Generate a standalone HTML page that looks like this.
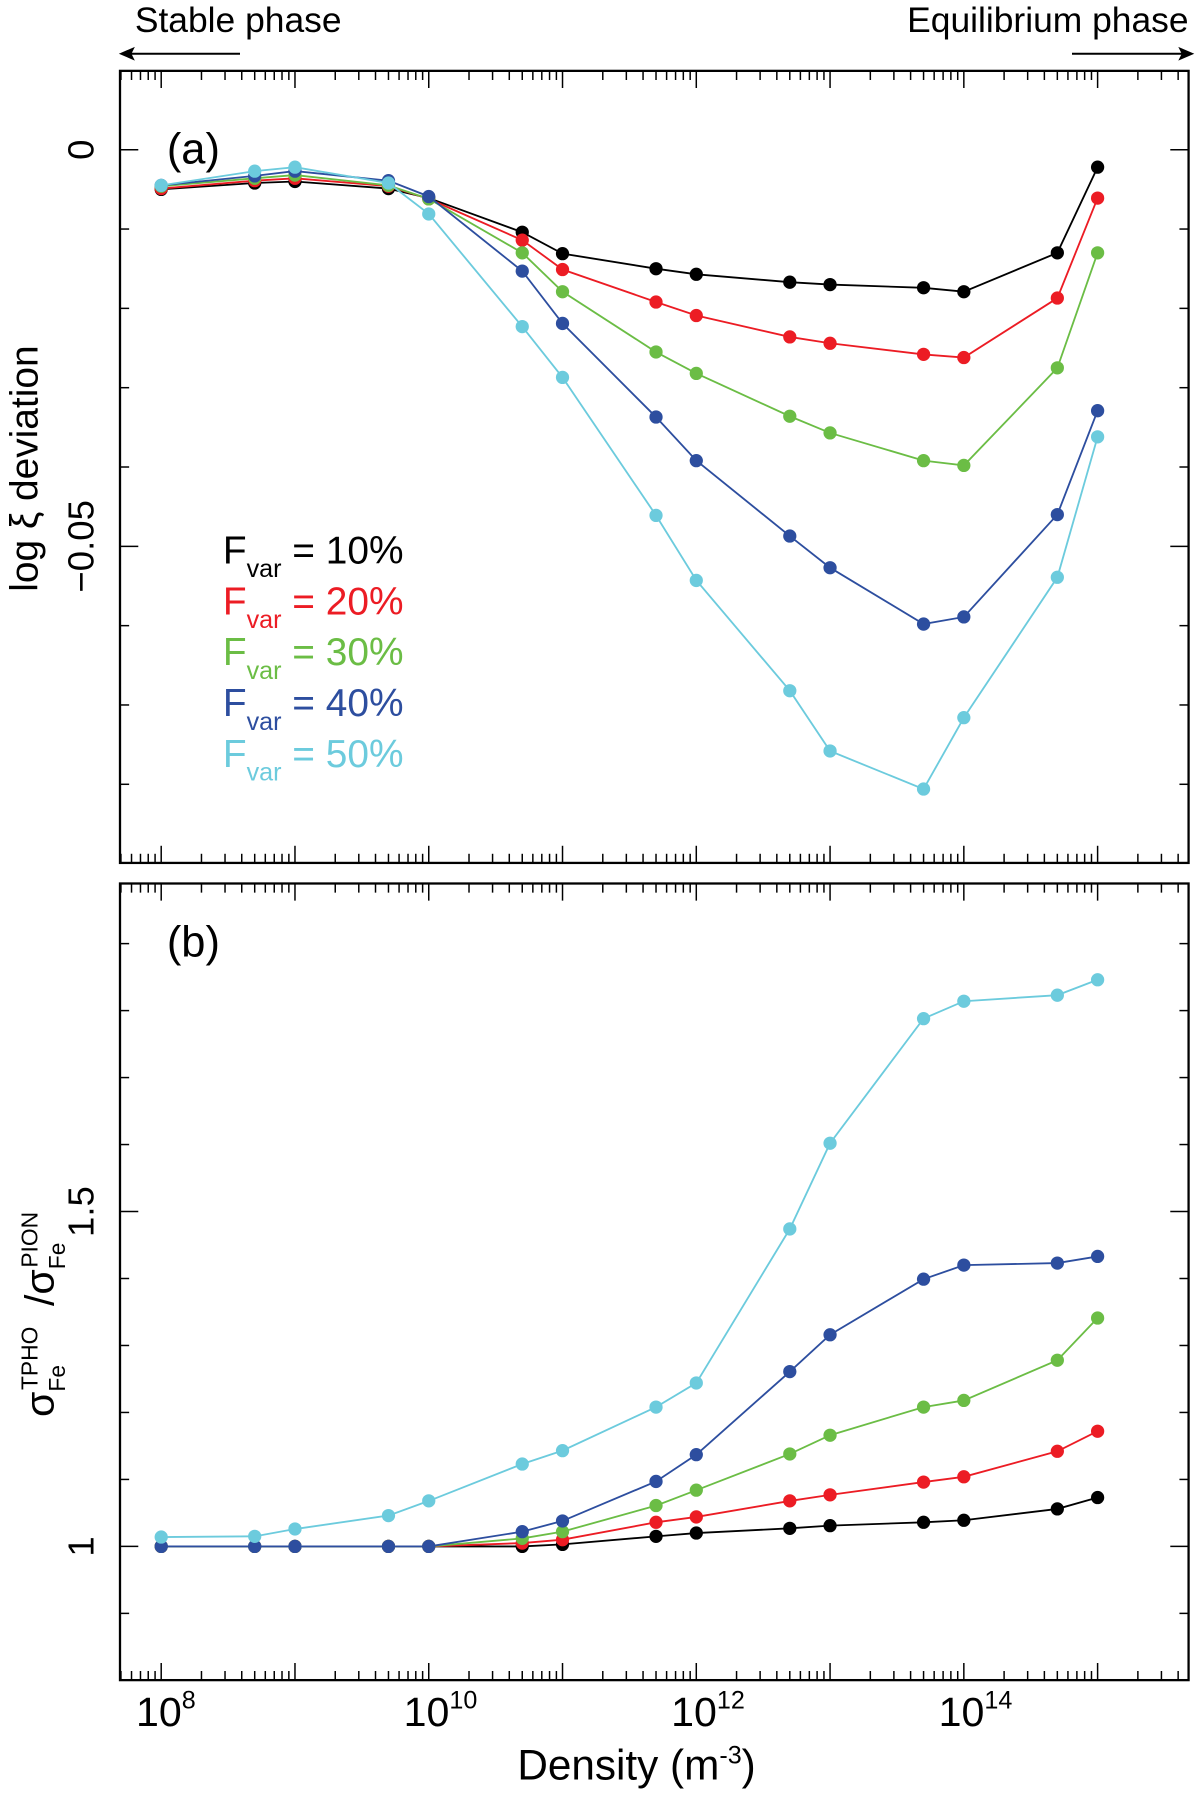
<!DOCTYPE html>
<html><head><meta charset="utf-8">
<style>
html,body{margin:0;padding:0;background:#fff;}
svg{display:block;font-family:"Liberation Sans",sans-serif;}
</style></head>
<body>
<svg id="chart" width="1200" height="1799" viewBox="0 0 1050 1574" preserveAspectRatio="none" xmlns="http://www.w3.org/2000/svg">
<g id="root"></g>
</svg>
<script>
const densities = [1e8,5e8,1e9,5e9,1e10,5e10,1e11,5e11,1e12,5e12,1e13,5e13,1e14,5e14,1e15];
const seriesNames = ["F_var = 10%","F_var = 20%","F_var = 30%","F_var = 40%","F_var = 50%"];
const legendPct = ["10%","20%","30%","40%","50%"];
const seriesColors = ["#000000","#ec1c24","#6bbd45","#2d4e9f","#6ccbdd"];
const devBlack = [-0.0050,-0.0042,-0.0040,-0.0049,-0.0061,-0.0104,-0.0131,-0.0150,-0.0157,-0.0167,-0.0170,-0.0174,-0.0179,-0.0130,-0.0022];
const devRed   = [-0.0049,-0.0039,-0.0036,-0.0046,-0.0062,-0.0114,-0.0151,-0.0192,-0.0209,-0.0236,-0.0244,-0.0258,-0.0262,-0.0187,-0.0061];
const devGreen = [-0.0046,-0.0036,-0.0032,-0.0045,-0.0062,-0.0130,-0.0179,-0.0255,-0.0282,-0.0336,-0.0357,-0.0392,-0.0398,-0.0275,-0.0130];
const devBlue  = [-0.0045,-0.0033,-0.0027,-0.0039,-0.0059,-0.0153,-0.0219,-0.0337,-0.0392,-0.0487,-0.0527,-0.0598,-0.0589,-0.0460,-0.0329];
const devCyan  = [-0.0045,-0.0027,-0.0022,-0.0042,-0.0081,-0.0223,-0.0287,-0.0461,-0.0543,-0.0682,-0.0758,-0.0806,-0.0716,-0.0539,-0.0362];
const ratioBlack = [1.0,1.0,1.0,1.0,1.0,1.0,1.003,1.015,1.020,1.027,1.031,1.036,1.039,1.056,1.073];
const ratioRed   = [1.0,1.0,1.0,1.0,1.0,1.005,1.010,1.036,1.044,1.068,1.077,1.096,1.104,1.142,1.172];
const ratioGreen = [1.0,1.0,1.0,1.0,1.0,1.012,1.022,1.061,1.084,1.138,1.166,1.208,1.218,1.278,1.341];
const ratioBlue  = [1.0,1.0,1.0,1.0,1.0,1.022,1.038,1.097,1.137,1.261,1.316,1.399,1.420,1.423,1.433];
const ratioCyan  = [1.014,1.015,1.026,1.046,1.068,1.123,1.143,1.208,1.244,1.474,1.602,1.788,1.814,1.823,1.846];
const devTicks = [0,-0.05];
const ratioTicks = [1,1.5];
const xTickExps = [8,10,12,14];

const NS="http://www.w3.org/2000/svg";
const root=document.getElementById('root');
function mk(tag,attrs,parent){const e=document.createElementNS(NS,tag);for(const k in attrs)e.setAttribute(k,attrs[k]);(parent||root).appendChild(e);return e;}

const L=105,R=1040;
const LMIN=7.692,LMAX=15.68;
function xs(v){return L+(Math.log10(v)-LMIN)/(LMAX-LMIN)*(R-L);}
const pa={top:62,bot:755};
const pb={top:773,bot:1470};
function ya(v){return 131-v*6940;}
function yb(v){return 1353-(v-1)*586;}

function panel(p,name,ys,yminorStep,ymin,ymax){
  const g=mk('g',{});
  
  
  const box=mk('rect',{x:L,y:p.top,width:R-L,height:p.bot-p.top,fill:'none',stroke:'#000','stroke-width':2},g);
  
  
  for(let d=7;d<=15;d++){
    for(let m=1;m<=9;m++){
      const v=m*Math.pow(10,d);const lv=Math.log10(v);
      if(lv<LMIN||lv>LMAX)continue;
      const x=xs(v);const len=m===1?15:8;
      mk('line',{x1:x,x2:x,y1:p.top,y2:p.top+len,stroke:'#000','stroke-width':1.3},g);
      mk('line',{x1:x,x2:x,y1:p.bot,y2:p.bot-len,stroke:'#000','stroke-width':1.3},g);
    }
  }
  for(let v=ymin;v<=ymax+1e-9;v+=yminorStep){
    const y=ys(v);
    if(y<p.top+2||y>p.bot-2)continue;
    const major=Math.abs(Math.round(v/ (yminorStep*5))*(yminorStep*5)-v)<1e-9;
    const len=major?16:8;
    mk('line',{x1:L,x2:L+len,y1:y,y2:y,stroke:'#000','stroke-width':1.3},g);
    mk('line',{x1:R,x2:R-len,y1:y,y2:y,stroke:'#000','stroke-width':1.3},g);
  }
  return g;
}
const ga=panel(pa,'panel-a',ya,0.01,-0.09,0.01);
const gb=panel(pb,'panel-b',yb,0.1,0.7,2.0);

function series(g,ys,vals,color,name){
  const pts=densities.map((d,i)=>xs(d).toFixed(1)+','+ys(vals[i]).toFixed(1)).join(' ');
  const pl=mk('polyline',{points:pts,fill:'none',stroke:color,'stroke-width':1.6},g);
  
  
  densities.forEach((d,i)=>{
    const c=mk('circle',{cx:xs(d),cy:ys(vals[i]),r:5.8,fill:color},g);
    
    
  });
}
const devAll=[devBlack,devRed,devGreen,devBlue,devCyan];
const ratioAll=[ratioBlack,ratioRed,ratioGreen,ratioBlue,ratioCyan];
const keys=['fvar-10','fvar-20','fvar-30','fvar-40','fvar-50'];
for(let i=0;i<5;i++)series(ga,ya,devAll[i],seriesColors[i],'deviation-'+keys[i]);
for(let i=0;i<5;i++)series(gb,yb,ratioAll[i],seriesColors[i],'ratio-'+keys[i]);

function rotLabel(txt,x,y,size,name){
  const t=mk('text',{x:x,y:y,'font-size':size,'text-anchor':'middle',transform:'rotate(-90 '+x+' '+y+')'});
  t.textContent=txt;
  
  
  return t;
}
devTicks.forEach(v=>rotLabel(v===0?'0':'\u22120.05',82,ya(v),32,'y-tick-label-a'));
ratioTicks.forEach(v=>rotLabel(String(v),82,yb(v),32,'y-tick-label-b'));

rotLabel('log \u03BE deviation',33,410,34,'y-axis-title-a');
{
  const x=47,y=1150;
  const t=mk('text',{x:x,y:y,'font-size':36,'text-anchor':'middle',transform:'rotate(-90 '+x+' '+y+')'});
  
  
  t.innerHTML='\u03C3<tspan font-size="20" dy="10">Fe</tspan><tspan font-size="20" dx="-22" dy="-24">TPHO</tspan><tspan dy="14" dx="8"> /\u03C3</tspan><tspan font-size="20" dy="10">Fe</tspan><tspan font-size="20" dx="-22" dy="-24">PION</tspan>';
}

xTickExps.forEach(e=>{
  const x=xs(Math.pow(10,e));
  const t=mk('text',{x:x-22,y:1510,'font-size':36});
  
  
  t.innerHTML='10<tspan font-size="22" dy="-15">'+e+'</tspan>';
});
{
  const t=mk('text',{x:557,y:1557,'font-size':37,'text-anchor':'middle'});
  
  
  t.innerHTML='Density (m<tspan font-size="22" dy="-14">-3</tspan><tspan dy="14">)</tspan>';
}

{
  const t=mk('text',{x:146,y:143,'font-size':38});t.textContent='(a)';
  
  const t2=mk('text',{x:146,y:837,'font-size':38});t2.textContent='(b)';
  
}

legendPct.forEach((p,i)=>{
  const y=493+i*44.5;
  const t=mk('text',{x:195,y:y,'font-size':34,fill:seriesColors[i]});
  
  
  t.innerHTML='F<tspan font-size="22" dy="12">var</tspan><tspan dy="-12"> = '+p+'</tspan>';
});

{
  const t=mk('text',{x:118,y:28,'font-size':31});t.textContent='Stable phase';
  
  const t2=mk('text',{x:1040,y:28,'font-size':31,'text-anchor':'end'});t2.textContent='Equilibrium phase';
  
  const a1=mk('line',{x1:108,x2:210,y1:47,y2:47,stroke:'#000','stroke-width':1.8});
  
  const h1=mk('path',{d:'M104 47 L118 41 L115 47 L118 53 Z',fill:'#000'});
  
  const a2=mk('line',{x1:938,x2:1040,y1:47,y2:47,stroke:'#000','stroke-width':1.8});
  
  const h2=mk('path',{d:'M1045 47 L1031 41 L1034 47 L1031 53 Z',fill:'#000'});
  
}
</script>
</body></html>
